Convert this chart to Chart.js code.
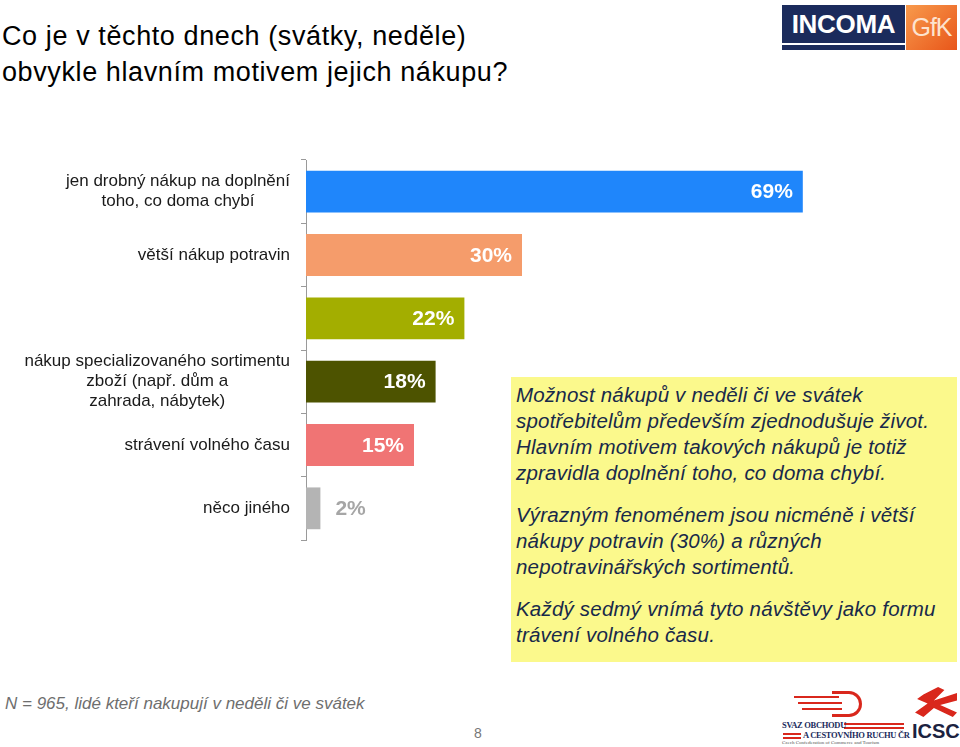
<!DOCTYPE html>
<html lang="cs">
<head>
<meta charset="utf-8">
<script src="https://cdn.jsdelivr.net/npm/chart.js@4"></script>
<style>
    body { margin: 0; width: 960px; height: 747px; background: #fff; position: relative; overflow: hidden; font-family: "Liberation Sans", Arial, sans-serif; }
    .title { position: absolute; left: 2px; top: 18px; font-size: 27px; line-height: 36px; color: #000; letter-spacing: 0.6px; white-space: nowrap; }
    .logo-incoma { position: absolute; left: 782px; top: 5px; width: 123px; height: 45px; background: #1b2b5c; color: #fff; font-weight: bold; font-size: 26px; text-align: center; line-height: 38px; letter-spacing: -0.3px; }
    .logo-incoma:after { content: ""; position: absolute; left: 0; right: 0; bottom: 5px; height: 2px; background: #fff; }
    .logo-gfk { position: absolute; left: 906px; top: 5px; width: 51px; height: 45px; background: linear-gradient(135deg, #f89a4c, #e8561a); color: #fde3cf; font-size: 25px; text-align: center; line-height: 45px; letter-spacing: -1px; }
    #wrap { position: absolute; left: 0; top: 150px; width: 810px; height: 400px; }
    .note { position: absolute; left: 511px; top: 377px; width: 446px; height: 285px; background: #fbf98c; box-sizing: border-box; padding: 5px 0 0 5px; color: #18294a; font-style: italic; font-size: 20.5px; line-height: 26px; white-space: nowrap; letter-spacing: 0.2px; }
    .note p { margin: 0 0 16px 0; }
    .foot { position: absolute; left: 5px; top: 694px; font-size: 17px; font-style: italic; color: #6e6e6e; }
    .page { position: absolute; left: 474px; top: 725px; font-size: 14px; color: #777; }
    .svaz { position: absolute; left: 782px; top: 688px; width: 125px; height: 58px; }
    .svaz .arc { position: absolute; left: 50px; top: 3px; width: 30px; height: 26px; border: 3px solid #d9271c; border-left: none; border-radius: 0 14px 14px 0; box-sizing: border-box; }
    .svaz .bar { position: absolute; height: 2px; background: #d9271c; }
    .svaz .t1, .svaz .t2 { position: absolute; font-family: "Liberation Serif", serif; font-weight: bold; font-size: 8.5px; color: #1b2b5c; white-space: nowrap; letter-spacing: -0.3px; }
    .svaz .t1 { left: 0; top: 32px; }
    .svaz .t2 { left: 21px; top: 42px; }
    .svaz .t3 { position: absolute; left: 0; top: 52px; font-family: "Liberation Serif", serif; font-size: 5px; color: #555; white-space: nowrap; }
    .icsc { position: absolute; left: 912px; top: 686px; width: 46px; height: 60px; }
    .icsc .mark { position: absolute; left: 3px; top: 1px; width: 42px; height: 30px; background: #d9271c; clip-path: polygon(55% 0, 70% 10%, 45% 45%, 100% 20%, 100% 45%, 60% 60%, 100% 85%, 90% 100%, 45% 70%, 20% 100%, 0 85%, 30% 55%, 5% 40%, 20% 25%); }
    .icsc .txt { position: absolute; left: 0; top: 34px; font-weight: bold; font-size: 20px; color: #1b2240; }
</style>
</head>
<body>
<div class="title">Co je v těchto dnech (svátky, neděle)<br>obvykle hlavním motivem jejich nákupu?</div>
<div class="logo-incoma">INCOMA</div>
<div class="logo-gfk">GfK</div>

<div id="wrap"><canvas id="chart"></canvas></div>

<div class="note">
    <p>Možnost nákupů v neděli či ve svátek<br>spotřebitelům především zjednodušuje život.<br>Hlavním motivem takových nákupů je totiž<br>zpravidla doplnění toho, co doma chybí.</p>
    <p>Výrazným fenoménem jsou nicméně i větší<br>nákupy potravin (30%) a různých<br>nepotravinářských sortimentů.</p>
    <p>Každý sedmý vnímá tyto návštěvy jako formu<br>trávení volného času.</p>
</div>

<div class="foot">N = 965, lidé kteří nakupují v neděli či ve svátek</div>
<div class="page">8</div>
<div class="svaz">
    <div class="arc"></div>
    <div class="bar" style="left:12px; top:8px; width:45px;"></div>
    <div class="bar" style="left:16px; top:14px; width:44px;"></div>
    <div class="bar" style="left:20px; top:20px; width:40px;"></div>
    <div class="bar" style="left:62px; top:35px; width:60px;"></div>
    <div class="bar" style="left:62px; top:39px; width:60px;"></div>
    <div class="bar" style="left:1px; top:45px; width:18px;"></div>
    <div class="bar" style="left:1px; top:49px; width:18px;"></div>
    <div class="t1">SVAZ OBCHODU</div>
    <div class="t2">A CESTOVNÍHO RUCHU ČR</div>
    <div class="t3">Czech Confederation of Commerce and Tourism</div>
</div>
<div class="icsc"><div class="mark"></div><div class="txt">ICSC</div></div>

<script>
// popisky kategorií (třetí sloupec nemá v originále popisek)
const categories = [
    ['jen drobný nákup na doplnění', 'toho, co doma chybí'],
    'větší nákup potravin',
    '',
    ['nákup specializovaného sortimentu', 'zboží (např. dům a', 'zahrada, nábytek)'],
    'strávení volného času',
    'něco jiného'
];
const values = [69, 30, 22, 18, 15, 2];
const barColors = ['#1f86fb', '#f59c6b', '#a3ae00', '#4d5300', '#f07474', '#b4b4b4'];

// vlastní kreslení popisků osy a hodnot
const labelsPlugin = {
    id: 'labelsPlugin',
    afterDatasetsDraw(chart) {
        const ctx = chart.ctx;
        const yScale = chart.scales.y;
        const meta = chart.getDatasetMeta(0);
        ctx.save();

        // popisky kategorií: blok zarovnaný vpravo, řádky na střed
        ctx.font = '17px "Liberation Sans", Arial, sans-serif';
        ctx.fillStyle = '#1a1a1a';
        ctx.textAlign = 'center';
        ctx.textBaseline = 'middle';
        const right = yScale.right - 16;
        categories.forEach((label, i) => {
            const lines = Array.isArray(label) ? label : [label];
            const maxW = Math.max(...lines.map(l => ctx.measureText(l).width));
            const cy = yScale.getPixelForValue(i);
            const lh = 20;
            lines.forEach((line, j) => {
                ctx.fillText(line, right - maxW / 2, cy + (j - (lines.length - 1) / 2) * lh);
            });
        });

        // hodnoty na koncích sloupců
        ctx.font = 'bold 21px "Liberation Sans", Arial, sans-serif';
        meta.data.forEach((bar, i) => {
            const text = values[i] + '%';
            const w = ctx.measureText(text).width;
            if (bar.x - bar.base > w + 20) {
                ctx.fillStyle = '#ffffff';
                ctx.textAlign = 'right';
                ctx.fillText(text, bar.x - 10, bar.y + 1);
            } else {
                ctx.fillStyle = '#a6a6a6';
                ctx.textAlign = 'left';
                ctx.fillText(text, bar.x + 15, bar.y + 1);
            }
        });
        ctx.restore();
    }
};

new Chart(document.getElementById('chart'), {
    type: 'bar',
    data: {
        labels: categories,
        datasets: [{
            data: values,
            backgroundColor: barColors,
            borderWidth: 0,
            categoryPercentage: 1,
            barPercentage: 0.66
        }]
    },
    options: {
        indexAxis: 'y',
        responsive: true,
        maintainAspectRatio: false,
        animation: false,
        layout: { padding: { top: 10, bottom: 10, left: 0, right: 0 } },
        plugins: {
            legend: { display: false },
            tooltip: { enabled: false }
        },
        scales: {
            x: {
                display: false,
                min: 0,
                max: 70
            },
            y: {
                grid: {
                    drawOnChartArea: false,
                    drawTicks: true,
                    tickLength: 5,
                    color: '#9a9a9a',
                    offset: true
                },
                border: { color: '#9a9a9a', width: 1 },
                ticks: { display: false },
                afterFit(scale) { scale.width = 306; }
            }
        }
    },
    plugins: [labelsPlugin]
});
</script>
</body>
</html>
